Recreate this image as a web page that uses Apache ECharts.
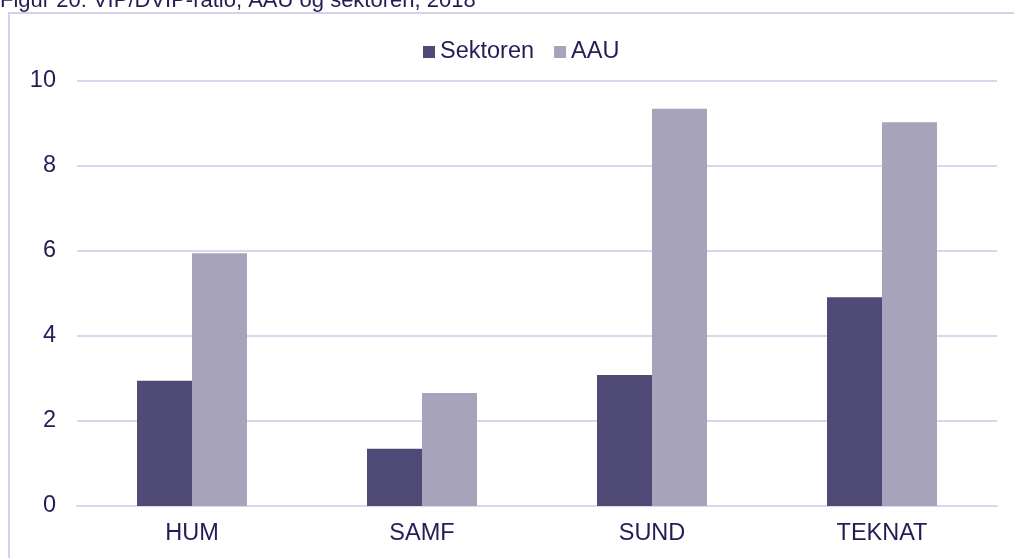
<!DOCTYPE html>
<html>
<head>
<meta charset="utf-8">
<script src="https://cdn.jsdelivr.net/npm/echarts@6/dist/echarts.min.js"></script>
<style>
  html, body { margin: 0; padding: 0; background: #fff; }
  #chart { width: 1014px; height: 558px; }
</style>
</head>
<body>
<div id="chart"></div>
<script>
// VIP/DVIP ratio per faculty
const categories = ['HUM', 'SAMF', 'SUND', 'TEKNAT'];
const sektoren = [2.95, 1.35, 3.08, 4.91];
const aau = [5.95, 2.66, 9.35, 9.03];
const yTicks = [0, 2, 4, 6, 8, 10];

const textColor = '#221d55';
const lineColor = '#d9d6f2';
const font = 'Liberation Sans, Arial, sans-serif';

const chart = echarts.init(document.getElementById('chart'));

const option = {
    backgroundColor: '#fff',
    animation: false,
    title: {
        text: 'Figur 20: VIP/DVIP-ratio, AAU og sektoren, 2018',
        left: 0,
        top: -10,
        padding: 0,
        textStyle: {
            color: textColor,
            fontFamily: font,
            fontSize: 22,
            fontWeight: 'normal'
        }
    },
    graphic: [{
        type: 'polyline',
        shape: { points: [[9, 600], [9, 13], [1014, 13]] },
        style: { stroke: '#d4d1ee', lineWidth: 2, fill: null },
        silent: true
    }],
    legend: {
        top: 35,
        left: 418,
        itemWidth: 12,
        itemHeight: 12,
        itemGap: 20,
        icon: 'rect',
        textStyle: {
            color: textColor,
            fontFamily: font,
            fontSize: 23.5
        },
        data: ['Sektoren', 'AAU']
    },
    grid: {
        left: 77,
        right: 17,
        top: 81,
        bottom: 52
    },
    xAxis: {
        type: 'category',
        data: categories,
        axisTick: { show: false },
        axisLine: { lineStyle: { color: lineColor, width: 2 } },
        axisLabel: {
            color: textColor,
            fontFamily: font,
            fontSize: 23.5,
            margin: 16
        }
    },
    yAxis: {
        type: 'value',
        min: yTicks[0],
        max: yTicks[yTicks.length - 1],
        interval: 2,
        axisLine: { show: false },
        axisTick: { show: false },
        splitLine: { lineStyle: { color: lineColor, width: 2 } },
        axisLabel: {
            color: textColor,
            fontFamily: font,
            fontSize: 23.5,
            margin: 21
        }
    },
    series: [
        {
            name: 'Sektoren',
            type: 'bar',
            data: sektoren,
            barWidth: 55,
            barGap: '0%',
            itemStyle: { color: '#4f4a76' }
        },
        {
            name: 'AAU',
            type: 'bar',
            data: aau,
            barWidth: 55,
            barGap: '0%',
            itemStyle: { color: '#a7a3ba' }
        }
    ]
};

chart.setOption(option);
</script>
</body>
</html>
